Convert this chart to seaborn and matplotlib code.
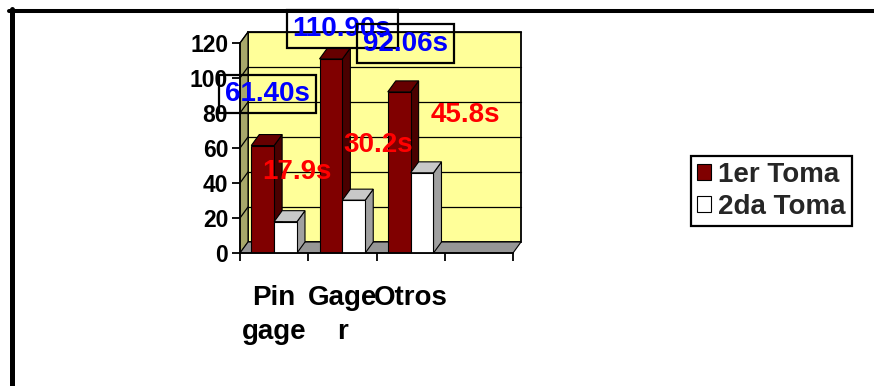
import matplotlib
matplotlib.use("Agg")
import matplotlib.pyplot as plt
from matplotlib.patches import Polygon, Rectangle, Patch
from matplotlib.lines import Line2D
import seaborn as sns
import pandas as pd

# Data
categorias = ["Pin\ngage", "Gage\nr", "Otros"]
series = ["1er Toma", "2da Toma"]
toma1 = [61.40, 110.90, 92.06]
toma2 = [17.9, 30.2, 45.8]
yticks = [0, 20, 40, 60, 80, 100, 120]

# Colours: front face, side face, top face of each series
colores = {"1er Toma": "#800000", "2da Toma": "#FFFFFF"}
lados = {"1er Toma": "#4A0000", "2da Toma": "#A0A0A0"}
techos = {"1er Toma": "#660000", "2da Toma": "#C8C8C8"}

# Label anchor points (data coordinates) for the value annotations
pos_toma1 = [(-0.10, 90.9), (0.995, 128.0), (1.925, 119.7)]
pos_toma2 = [(0.33, 46.3), (1.53, 61.7), (2.80, 78.9)]

df = pd.DataFrame({
    "categoria": categorias * 2,
    "serie": [series[0]] * len(categorias) + [series[1]] * len(categorias),
    "valor": toma1 + toma2,
})

sns.set_theme(style="white")
plt.rcParams["font.family"] = ["Liberation Sans", "DejaVu Sans"]
plt.rcParams["font.weight"] = "bold"

W, H = 874, 386
fig = plt.figure(figsize=(W / 100, H / 100), dpi=100)
ax = fig.add_axes([240 / W, 1 - 253 / H, (513 - 240) / W, (253 - 43) / H])
ax.set_facecolor("none")

sns.barplot(data=df, x="categoria", y="valor", hue="serie",
            order=categorias, hue_order=series, palette=colores,
            width=0.67, saturation=1, edgecolor="black", linewidth=0.8,
            legend=False, ax=ax)

ax.set_xlim(-0.5, 3.5)
ax.set_ylim(0, 120)

# depth of the pseudo-3D box, in data units (8 px right, 11 px up)
DX = 8 * 4.0 / 273
DY = 11 * 120.0 / 210

bars = list(ax.patches)
ncat = len(categorias)
orden = sorted(range(len(bars)), key=lambda i: bars[i].get_x())
for rank, i in enumerate(orden):
    p = bars[i]
    serie = series[i // ncat]
    x0, w, h = p.get_x(), p.get_width(), p.get_height()
    z = 1 + 0.01 * rank
    lado = Polygon([(x0 + w, 0), (x0 + w, h), (x0 + w + DX, h + DY), (x0 + w + DX, DY)],
                   closed=True, fc=lados[serie], ec="black", lw=0.8, zorder=z, clip_on=False)
    techo = Polygon([(x0, h), (x0 + w, h), (x0 + w + DX, h + DY), (x0 + DX, h + DY)],
                    closed=True, fc=techos[serie], ec="black", lw=0.8, zorder=z, clip_on=False)
    ax.add_patch(lado)
    ax.add_patch(techo)
    p.set_zorder(z + 0.005)

# walls and floor
x_l, x_r = -0.5, 3.5
ax.add_patch(Rectangle((x_l + DX, DY), x_r - x_l, 120, fc="#FFFF99", ec="black",
                       lw=1.3, zorder=0.3, clip_on=False))
ax.add_patch(Polygon([(x_l, 0), (x_l, 120), (x_l + DX, 120 + DY), (x_l + DX, DY)],
                     closed=True, fc="#A8A86A", ec="black", lw=0.8, zorder=0.32, clip_on=False))
ax.add_patch(Polygon([(x_l, 0), (x_r, 0), (x_r + DX, DY), (x_l + DX, DY)],
                     closed=True, fc="#969696", ec="black", lw=0.8, zorder=0.35, clip_on=False))
for v in yticks[1:]:
    ax.plot([x_l + DX, x_r + DX], [v + DY, v + DY], color="black", lw=0.9,
            zorder=0.4, clip_on=False)
    ax.plot([x_l, x_l + DX], [v, v + DY], color="black", lw=0.9,
            zorder=0.4, clip_on=False)

# axes, ticks
sns.despine(ax=ax)
for s in ("left", "bottom"):
    ax.spines[s].set_color("black")
    ax.spines[s].set_linewidth(1.3)
ax.set_xlabel("")
ax.set_ylabel("")
ax.set_yticks(yticks)
ax.set_yticklabels([str(t) for t in yticks])
ax.tick_params(axis="y", which="major", left=True, length=6, width=1.3,
               color="black", pad=2.5, labelsize=16.5, labelcolor="black")
ax.set_xticks(range(ncat))
ax.set_xticklabels(categorias)
ax.set_xticks([x_l + k for k in range(5)], minor=True)
ax.tick_params(axis="x", which="major", bottom=True, length=0, pad=23,
               labelsize=20, labelcolor="black")
ax.tick_params(axis="x", which="minor", bottom=True, length=6, width=1.3,
               color="black")
for t in ax.get_xticklabels():
    t.set_linespacing(1.4)

# value labels
for (x, y), v in zip(pos_toma1, toma1):
    ax.text(x, y, f"{v:.2f}s", color="#0000FF", fontsize=20, fontweight="bold",
            ha="center", va="center", zorder=5, clip_on=False,
            bbox=dict(boxstyle="square,pad=0.22", fc="none", ec="black", lw=1.6))
for (x, y), v in zip(pos_toma2, toma2):
    ax.text(x, y, f"{v:.1f}s", color="#FF0000", fontsize=20, fontweight="bold",
            ha="center", va="center", zorder=5, clip_on=False)

# legend
handles = [Patch(facecolor=colores[s], edgecolor="black", lw=0.8) for s in series]
leg = fig.legend(handles, series, loc="center",
                 bbox_to_anchor=((679 + 864) / 2 / W, 1 - 191 / H),
                 frameon=True, fancybox=False, framealpha=1, edgecolor="black",
                 prop=dict(size=20, weight="bold"), handlelength=0.5,
                 handleheight=0.5, handletextpad=0.25, labelspacing=0.2,
                 borderpad=0.22, borderaxespad=0)
leg.get_frame().set_linewidth(1.6)

# outer border of the chart area
fig.add_artist(Line2D([11.5 / W, 11.5 / W], [1 - 9 / H, 0], transform=fig.transFigure,
                      color="black", lw=3.6))
fig.add_artist(Line2D([9 / W, 1], [1 - 10.5 / H, 1 - 10.5 / H], transform=fig.transFigure,
                      color="black", lw=2.9))

fig.savefig("out.png", dpi=100)
